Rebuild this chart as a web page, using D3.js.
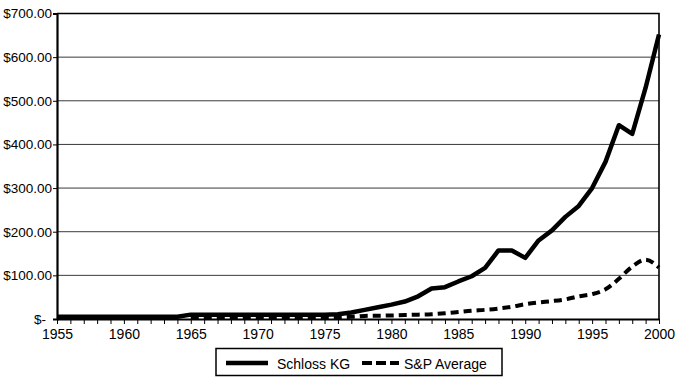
<!DOCTYPE html>
<html>
<head>
<meta charset="utf-8">
<script src="https://cdn.jsdelivr.net/npm/d3@7"></script>
<style>
  body { margin: 0; background: #fff; }
  svg { display: block; font-family: "Liberation Sans", Arial, sans-serif; }
</style>
</head>
<body>
<svg class="chart" width="676" height="384"></svg>
<script>
// categories
var years = [1955,1956,1957,1958,1959,1960,1961,1962,1963,1964,
             1965,1966,1967,1968,1969,1970,1971,1972,1973,1974,
             1975,1976,1977,1978,1979,1980,1981,1982,1983,1984,
             1985,1986,1987,1988,1989,1990,1991,1992,1993,1994,
             1995,1996,1997,1998,1999,2000];
// series values
var schlossKG = [5,5,5,5,5,5,5,5,5,5,
                 10,10,10,10,10,10,10,10,10,10,
                 10,11,15,21,27,33,40,52,70,73,
                 86,98,117,157,157,140,180,203,234,259,
                 300,360,444,424,530,652];
var spAverage = [null,null,null,null,null,null,null,null,null,null,
                 3,3,3,3,3,3,3,3,3,3,
                 4,4,5,7,7.5,8,9,10,11,13,
                 16,19,21,24,28,34,38,41,45,52,
                 57,68,92,120,136,118];
var yTicks = [0,100,200,300,400,500,600,700];
var xLabelYears = [1955,1960,1965,1970,1975,1980,1985,1990,1995,2000];
var seriesNames = ["Schloss KG","S&P Average"];

var svg = d3.select(".chart");
var width = 676, height = 384;
var margin = {top: 13.5, right: 17, bottom: 65, left: 57};
var x0 = margin.left, x1 = width - margin.right;
var y0 = height - margin.bottom, y1 = margin.top;

var x = d3.scaleLinear().domain([years[0], years[years.length-1]]).range([x0, x1]);
var y = d3.scaleLinear().domain([0, 700]).range([y0, y1]);

svg.append("rect").attr("width", width).attr("height", height).attr("fill", "#fff");

// gridlines
svg.append("g").selectAll("line")
    .data(yTicks.slice(1, -1))
    .enter().append("line")
    .attr("x1", x0).attr("x2", x1)
    .attr("y1", function(d){ return y(d); })
    .attr("y2", function(d){ return y(d); })
    .attr("stroke", "#3a3a3a")
    .attr("stroke-width", 1);

// top and right border
svg.append("path")
    .attr("d", "M" + x0 + "," + y(700) + "H" + x1 + "V" + y0)
    .attr("fill", "none")
    .attr("stroke", "#000")
    .attr("stroke-width", 1.6);

// y axis
var yAxis = d3.axisLeft(y)
    .tickValues(yTicks)
    .tickSize(4)
    .tickPadding(1)
    .tickFormat(function(d){ return d === 0 ? "$-" : "$" + d3.format(".2f")(d); });
var gy = svg.append("g").attr("transform", "translate(" + x0 + ",0)").call(yAxis);
gy.select(".domain").attr("stroke", "#000").attr("stroke-width", 2.2);
gy.selectAll(".tick line").attr("stroke", "#000").attr("stroke-width", 1);
gy.selectAll(".tick text")
    .attr("font-size", 13.5)
    .attr("font-family", "Liberation Sans, Arial, sans-serif")
    .attr("fill", "#000")
    .attr("dx", function(d){ return d === 0 ? -6 : 0; });

// x axis
var xAxis = d3.axisBottom(x)
    .tickValues(years)
    .tickSize(5)
    .tickPadding(5)
    .tickSizeOuter(0)
    .tickFormat(function(d){ return xLabelYears.indexOf(d) >= 0 ? d : ""; });
var gx = svg.append("g").attr("transform", "translate(0," + y0 + ")").call(xAxis);
gx.select(".domain").attr("stroke", "#000").attr("stroke-width", 2);
gx.selectAll(".tick line").attr("stroke", "#000").attr("stroke-width", 1);
gx.selectAll(".tick text")
    .attr("font-size", 14)
    .attr("font-family", "Liberation Sans, Arial, sans-serif")
    .attr("fill", "#000");

// lines
var line = function(values, curve){
    return d3.line()
        .defined(function(d, i){ return values[i] != null; })
        .x(function(d){ return x(d); })
        .y(function(d, i){ return y(values[i]); })
        .curve(curve)(years);
};

svg.append("path")
    .attr("d", line(spAverage, d3.curveMonotoneX))
    .attr("fill", "none")
    .attr("stroke", "#000")
    .attr("stroke-width", 4)
    .attr("stroke-dasharray", "8,5");

svg.append("path")
    .attr("d", line(schlossKG, d3.curveLinear))
    .attr("fill", "none")
    .attr("stroke", "#000")
    .attr("stroke-width", 4.5)
    .attr("stroke-linejoin", "round");

// legend
var legend = svg.append("g").attr("transform", "translate(216,348.5)");
legend.append("rect")
    .attr("width", 286).attr("height", 27)
    .attr("fill", "#fff").attr("stroke", "#000").attr("stroke-width", 1.5);
var items = legend.selectAll("g.item")
    .data(seriesNames)
    .enter().append("g")
    .attr("class", "item")
    .attr("transform", function(d, i){ return "translate(" + (i === 0 ? 10 : 146) + ",0)"; });
items.append("line")
    .attr("x1", 0).attr("x2", function(d, i){ return i === 0 ? 42 : 37; })
    .attr("y1", 14.5).attr("y2", 14.5)
    .attr("stroke", "#000")
    .attr("stroke-width", function(d, i){ return i === 0 ? 4.5 : 4; })
    .attr("stroke-dasharray", function(d, i){ return i === 0 ? null : "10,4"; });
items.append("text")
    .attr("x", function(d, i){ return i === 0 ? 51 : 42; })
    .attr("y", 20)
    .attr("font-size", 14)
    .attr("fill", "#000")
    .text(function(d){ return d; });
</script>
</body>
</html>
